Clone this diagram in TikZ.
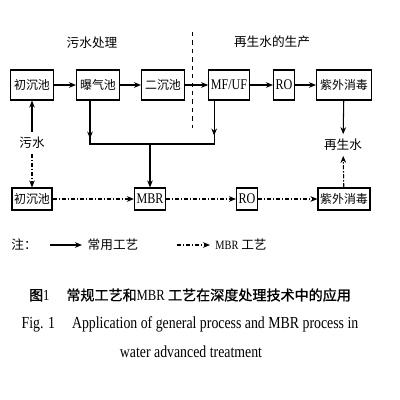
\documentclass[tikz,border=0pt]{standalone}
\usepackage{fontspec}
\setmainfont{Liberation Serif}[FakeStretch=0.82]
\newfontfamily\cjk{Noto Sans CJK SC}
\newfontfamily\cjkb{Noto Sans CJK SC}[FakeBold=1.2]
\newcommand\en[1]{{\rmfamily #1}}
\newcommand\enbig[1]{{\rmfamily\fontsize{10.5}{12}\selectfont #1}}
\usetikzlibrary{arrows.meta}

\tikzset{
  box/.style={draw, line width=0.8pt, font=\cjk\fontsize{8.5}{10}\selectfont,
    inner xsep=2.5pt, minimum height=0.75cm},
  lowbox/.style={box, inner xsep=1.5pt, minimum height=0.55cm},
  flow/.style={-{Stealth[length=5pt,width=4pt]}, line width=0.75pt},
  mbrflow/.style={flow, dash pattern=on 3pt off 1.2pt on 1pt off 1.2pt},
  lbl/.style={font=\cjk\fontsize{9}{11}\selectfont},
}

\begin{document}
\begin{tikzpicture}[x=0.025cm, y=-0.025cm]
  \useasboundingbox (0,0) rectangle (400,400);
  % labels of the two parts
  \node[lbl] (sewage) at (92,43) {污水处理};
  \node[lbl] (reuse) at (272,42) {再生水的生产};
  \draw[line width=0.6pt, dashed] (192,32) -- (192,128);

  % general process
  \node[box] (pre) at (32,85) {初沉池};
  \node[box] (aer) at (98,85) {曝气池};
  \node[box] (sec) at (163,85) {二沉池};
  \node[box, inner xsep=1.5pt] (mfuf) at (229,85) {\enbig{MF/UF}};
  \node[box, inner xsep=1.5pt] (ro) at (284,85) {\enbig{RO}};
  \node[box] (uv) at (344,85) {紫外消毒};
  \draw[flow] (pre) -- (aer);
  \draw[flow] (aer) -- (sec);
  \draw[flow] (sec) -- (mfuf);
  \draw[flow] (mfuf) -- (ro);
  \draw[flow] (ro) -- (uv);

  \node[lbl] (raw) at (32,143) {污水};
  \node[lbl] (water) at (343,145) {再生水};
  \draw[flow] (raw) -- (pre);
  \draw[flow] (uv) -- (water);

  % MBR process
  \node[lowbox] (pre2) at (32,199) {初沉池};
  \node[lowbox] (mbr) at (150,199) {\enbig{MBR}};
  \node[lowbox] (ro2) at (247,199) {\enbig{RO}};
  \node[lowbox] (uv2) at (344,199) {紫外消毒};
  \draw[mbrflow] (raw) -- (pre2);
  \draw[mbrflow] (pre2) -- (mbr);
  \draw[mbrflow] (mbr) -- (ro2);
  \draw[mbrflow] (ro2) -- (uv2);
  \draw[mbrflow] (uv2) -- (water);

  % aeration .. MF/UF replaced by MBR
  \coordinate (aerout) at ([xshift=-0.2cm]aer.south);
  \coordinate (mfout) at ([xshift=0.15cm]mfuf.south west);
  \coordinate (join) at (150,144);
  \draw[line width=0.75pt] (aerout) |- (join) -| (mfout);
  \draw[flow] (aerout) -- ++(0,38);
  \draw[flow] (mfout) -- ++(0,35);
  \draw[flow] (join) -- (mbr);

  % legend
  \node[lbl] (note) at (24,245) {注：};
  \coordinate (s1) at (50,245);
  \coordinate (e1) at (82,245);
  \draw[flow] (s1) -- (e1);
  \node[lbl] (gen) at (113,245) {常用工艺};
  \coordinate (s2) at (177,245);
  \coordinate (e2) at (210,245);
  \draw[mbrflow] (s2) -- (e2);
  \node[lbl] (mbrkey) at (241,245) {\en{MBR} 工艺};

  % caption
  \node[font=\cjkb\fontsize{10}{12}\selectfont] (cap1) at (190,295)
    {图{\fontsize{11}{12}\selectfont\en{1}}\hspace{1.2em}常规工艺和{\fontsize{11}{12}\selectfont\en{MBR}} 工艺在深度处理技术中的应用};
  \node[font=\fontsize{12}{14}\selectfont] (cap2) at (190,324)
    {Fig. 1\hspace{1em}Application of general process and MBR process in};
  \node[font=\fontsize{12}{14}\selectfont] (cap3) at (191,352)
    {water advanced treatment};
\end{tikzpicture}
\end{document}
